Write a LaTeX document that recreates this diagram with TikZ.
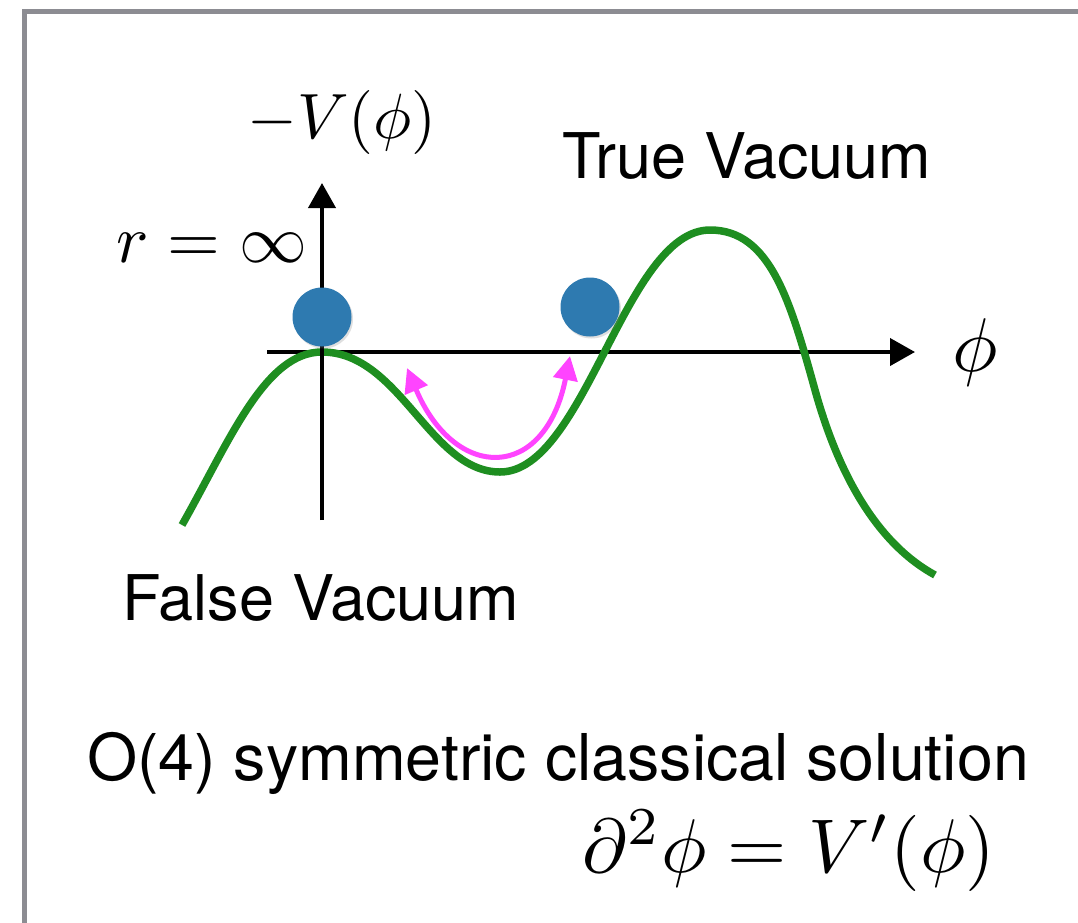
\documentclass[tikz,border=0pt]{standalone}
\usepackage{fontspec}
\newfontfamily\heros{TeX Gyre Heros}
\usetikzlibrary{arrows.meta,shadows}
\definecolor{framegray}{RGB}{140,140,146}
\definecolor{curvegreen}{RGB}{30,142,32}
\definecolor{ballblue}{RGB}{46,122,176}
\definecolor{arrowmag}{RGB}{255,68,255}
\tikzset{
  axisline/.style={line width=4pt, -{Triangle[length=25pt,width=27pt]}},
  sanslabel/.style={font=\heros\fontsize{63}{70}\selectfont, anchor=base, inner sep=0pt},
  mathlabel/.style={font=\fontsize{10}{12}\selectfont, anchor=base, inner sep=0pt, scale=6.4},
  ball/.style={circle, fill=ballblue, minimum size=59pt, inner sep=0pt,
    drop shadow={opacity=0.25, shadow xshift=1.5pt, shadow yshift=-2pt}},
  potential/.style={curvegreen, line width=7.5pt},
  swing/.style={arrowmag, line width=5pt,
    {Triangle[length=24pt,width=24pt]}-{Triangle[length=24pt,width=24pt]}}
}
\begin{document}
\begin{tikzpicture}[x=1pt,y=-1pt]
\useasboundingbox (0,0) rectangle (1078,922);
\clip (0,0) rectangle (1078,922);
\fill[white] (0,0) rectangle (1078,922);
\draw[framegray, line width=5pt] (24.5,11.5) rectangle (1110,960);

% axes
\coordinate (xstart) at (267,352);
\coordinate (xend) at (915,352);
\coordinate (ystart) at (322,520);
\coordinate (yend) at (322,183);
\draw[axisline] (xstart) -- (xend);

% potential curve
\coordinate (c0) at (182,525);
\coordinate (c1) at (322,352);
\coordinate (c2) at (500,472);
\coordinate (c3) at (710,230);
\coordinate (c4) at (815,390);
\coordinate (c5) at (935,575);
\draw[potential] (c0) .. controls (230,440) and (265,352) .. (c1)
  .. controls (400,352) and (430,472) .. (c2)
  .. controls (585,472) and (625,230) .. (c3)
  .. controls (770,230) and (790,300) .. (c4)
  .. controls (840,480) and (880,545) .. (c5);

\draw[axisline] (ystart) -- (yend);

% magenta oscillation arrow
\coordinate (m0) at (407,368);
\coordinate (m1) at (570,356);
\draw[swing] (m0) .. controls (455,482) and (545,482) .. (m1);

% balls
\node[ball] (ball1) at (322,317) {};
\node[ball] (ball2) at (590,307) {};

% labels
\node[mathlabel] (ylab) at (342,138) {$-V(\phi)$};
\node[mathlabel, scale=1.06] (rinf) at (212,262) {$r=\infty$};
\node[mathlabel, scale=1.19] (philab) at (975,371) {$\phi$};
\node[sanslabel] (truev) at (747,178) {True Vacuum};
\node[sanslabel] (falsev) at (321,620) {False Vacuum};
\node[sanslabel, font=\heros\fontsize{64.5}{70}\selectfont] (o4) at (558,780) {O(4) symmetric classical solution};
\node[mathlabel, scale=1.19] (eq) at (789,872) {$\partial^2\phi = V'(\phi)$};
\end{tikzpicture}
\end{document}
